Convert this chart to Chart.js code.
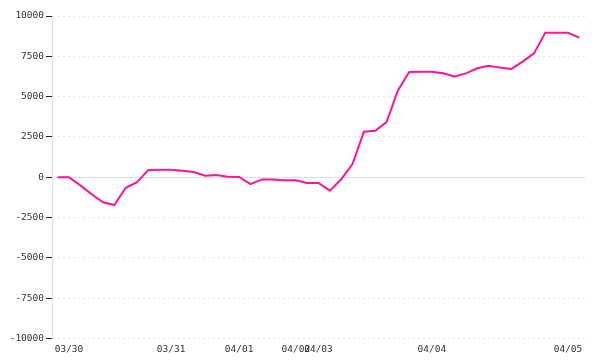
<!DOCTYPE html>
<html>
<head>
<meta charset="utf-8">
<script src="https://cdn.jsdelivr.net/npm/chart.js@4/dist/chart.umd.min.js"></script>
<style>
  html, body { margin: 0; padding: 0; background: #fff; }
  #wrap { width: 600px; height: 360px; }
</style>
</head>
<body>
<div id="wrap"><canvas id="myChart"></canvas></div>
<script>
  // one label per point, only the first point of each day carries text
  const categories = [
    "", "03/30", "", "", "", "", "", "", "", "",
    "03/31", "", "", "", "", "", "04/01", "", "", "",
    "", "04/02", "", "04/03", "", "", "", "", "", "",
    "", "", "", "04/04", "", "", "", "", "", "",
    "", "", "", "", "", "04/05", ""
  ];

  const values = [
    0, 0, -500, -1050, -1550, -1720, -650, -300, 460, 470,
    470, 400, 330, 100, 140, 40, 20, -420, -130, -130,
    -190, -190, -350, -350, -830, -120, 820, 2820, 2880, 3420,
    5390, 6530, 6550, 6550, 6450, 6250, 6440, 6760, 6920, 6800,
    6720, 7170, 7680, 8960, 8960, 8960, 8660
  ];

  const yTicks = [-10000, -7500, -5000, -2500, 0, 2500, 5000, 7500, 10000];

  const font = { family: "DejaVu Sans Mono", size: 9.5 };

  const ctx = document.getElementById("myChart").getContext("2d");
  new Chart(ctx, {
    type: "line",
    data: {
      labels: categories,
      datasets: [
        {
          data: values,
          borderColor: "#ff1493",
          borderWidth: 2,
          pointRadius: 0,
          tension: 0,
          fill: false,
        },
      ],
    },
    options: {
      responsive: true,
      maintainAspectRatio: false,
      animation: false,
      layout: { padding: { top: 16, right: 15, bottom: 0, left: 0 } },
      plugins: {
        legend: { display: false },
        tooltip: { enabled: false },
      },
      scales: {
        x: {
          offset: true,
          grid: { display: false, drawTicks: false },
          border: { display: false },
          ticks: {
            autoSkip: false,
            maxRotation: 0,
            padding: 5,
            color: "#333",
            font: font,
          },
        },
        y: {
          min: yTicks[0],
          max: yTicks[yTicks.length - 1],
          afterBuildTicks: (scale) => {
            scale.ticks = yTicks.map((v) => ({ value: v }));
          },
          afterFit: (scale) => {
            scale.width = 52;
          },
          grid: {
            color: (c) => (c.tick && c.tick.value === 0 ? "#dddddd" : "#e6e6e6"),
            tickColor: "#222",
            tickLength: 6,
          },
          border: {
            color: "#dddddd",
            dash: (c) => (c.tick && c.tick.value === 0 ? [] : [2, 3]),
          },
          ticks: {
            padding: 2,
            color: "#333",
            font: font,
            callback: (v) => String(v),
          },
        },
      },
    },
  });
</script>
</body>
</html>
